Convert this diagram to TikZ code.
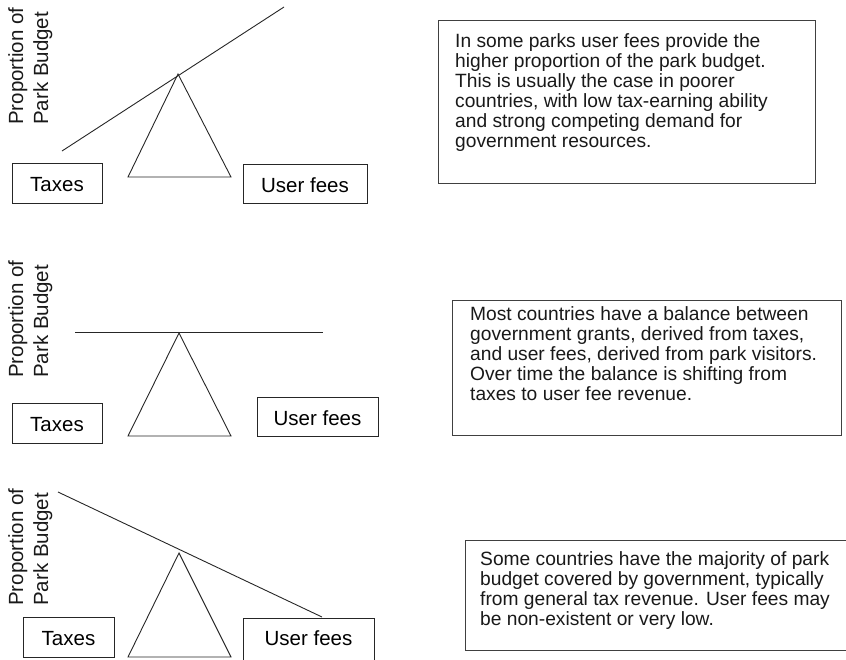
\documentclass[tikz,border=0pt]{standalone}
\usepackage{fontspec}
\setmainfont{Liberation Sans}
\begin{document}
\begin{tikzpicture}[x=1pt,y=-1pt,
  ink/.style={line width=0.9pt, draw=black!85},
  labelbox/.style={draw=black!85, line width=0.9pt, inner sep=0pt,
    font=\fontsize{20.5}{24}\selectfont, text height=17pt, text depth=0pt},
  notebox/.style={draw=black!75, line width=0.9pt, inner sep=0pt, anchor=north west},
  notetext/.style={anchor=north west, inner sep=0pt, align=left,
    font=\fontsize{19.2}{20}\selectfont, text=black!90},
  axislabel/.style={rotate=90, anchor=north west, inner sep=0pt, align=left,
    font=\fontsize{20.5}{25}\selectfont, text=black!90}
]
\clip (0,0) rectangle (846,659);

% ---------- upper panel: beam tilted up toward user fees ----------
\node[axislabel] (ax1) at (8,125) {Proportion of\\Park Budget};
\draw[ink] (62,151) -- (284,7);
\draw[ink] (178,74) -- (128,177) -- (231,177) -- cycle;
\node[labelbox, minimum width=90pt, minimum height=40pt] (tax1) at (57,183) {Taxes};
\node[labelbox, minimum width=124pt, minimum height=39pt] (fee1) at (305,183.5) {User fees};
\node[notebox, minimum width=377pt, minimum height=163pt] (box1) at (438,20) {};
\node[notetext] (note1) at (455,33) {In some parks user fees provide the\\
higher proportion of the park budget.\\
This is usually the case in poorer\\
countries, with low tax-earning ability\\
and strong competing demand for\\
government resources.};

% ---------- middle panel: level beam ----------
\node[axislabel] (ax2) at (8,378) {Proportion of\\Park Budget};
\draw[ink] (75,332) -- (323,332);
\draw[ink] (179,333) -- (128,436) -- (231,436) -- cycle;
\node[labelbox, minimum width=90pt, minimum height=40pt] (tax2) at (57,423) {Taxes};
\node[labelbox, minimum width=121pt, minimum height=39pt] (fee2) at (317.5,416.5) {User fees};
\node[notebox, minimum width=389pt, minimum height=135pt] (box2) at (452,300) {};
\node[notetext] (note2) at (470,306) {Most countries have a balance between\\
government grants, derived from taxes,\\
and user fees, derived from park visitors.\\
Over time the balance is shifting from\\
taxes to user fee revenue.};

% ---------- lower panel: beam tilted up toward taxes ----------
\node[axislabel] (ax3) at (8,606) {Proportion of\\Park Budget};
\draw[ink] (58,492) -- (322,617);
\draw[ink] (179,553) -- (128,657) -- (231,657) -- cycle;
\node[labelbox, minimum width=91pt, minimum height=40pt] (tax3) at (68.5,637) {Taxes};
% this box runs off the bottom edge; deeper text depth keeps the label high
\node[labelbox, text depth=15pt, minimum width=131pt, minimum height=52pt] (fee3) at (308.5,644) {User fees};
\node[notebox, minimum width=440pt, minimum height=110pt] (box3) at (465,540) {};
\node[notetext] (note3) at (480,551) {Some countries have the majority of park\\
budget covered by government, typically\\
from general tax revenue. User fees may\\
be non-existent or very low.};
\end{tikzpicture}
\end{document}
